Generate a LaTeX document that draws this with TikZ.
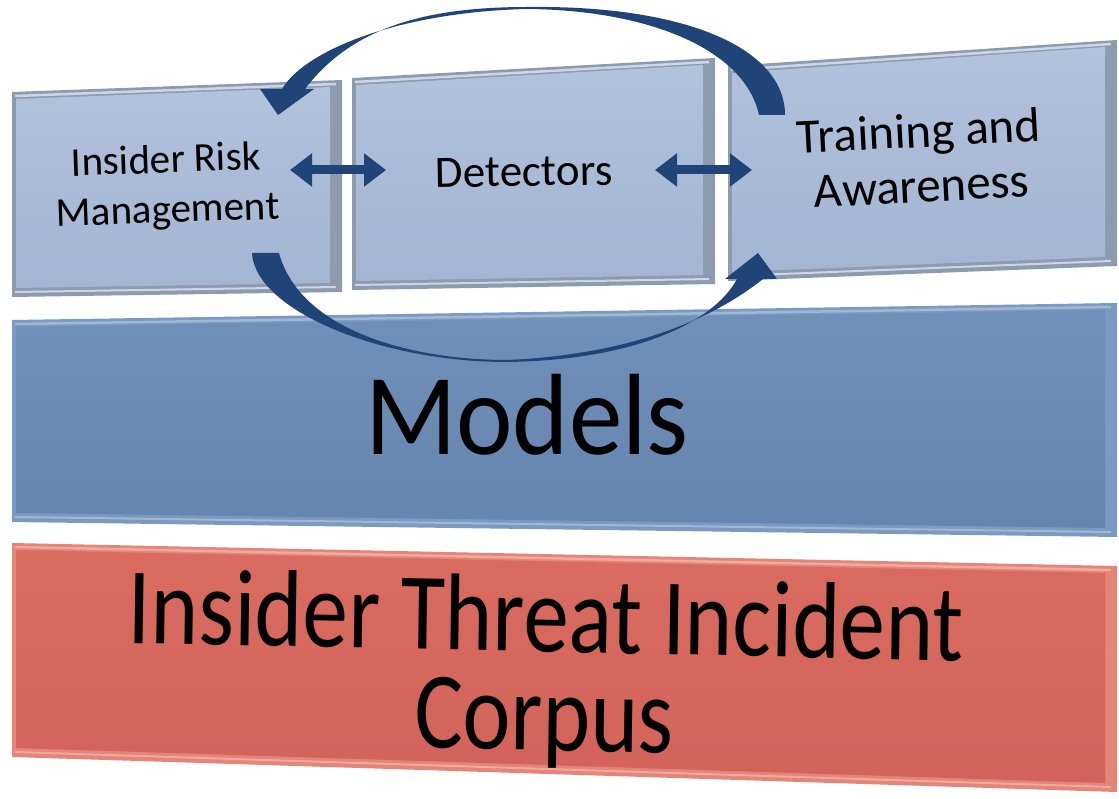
\documentclass[tikz,border=0pt]{standalone}
\usepackage{fontspec}
\setmainfont{Carlito}
\usetikzlibrary{arrows.meta,calc}

\definecolor{navy}{HTML}{1F4478}
\definecolor{tileface}{HTML}{B0C2DC}
\definecolor{tilefaceb}{HTML}{A2B5D2}
\definecolor{tileedge}{HTML}{8E9AAE}
\definecolor{tilelite}{HTML}{CBD7E8}
\definecolor{modface}{HTML}{7090BA}
\definecolor{modfaceb}{HTML}{6585B0}
\definecolor{modedge}{HTML}{7C99C0}
\definecolor{modlite}{HTML}{A0B7D6}
\definecolor{corface}{HTML}{DA6B5F}
\definecolor{corfaceb}{HTML}{D2635A}
\definecolor{coredge}{HTML}{E38578}
\definecolor{corlite}{HTML}{F1A89E}

% bevelled slab: corners TL, TR, BR, BL; face top/bottom colours; edge colour; highlight colour
\newcommand\bevelquad[8]{%
  \fill[#7] #1 -- #2 -- #3 -- #4 -- cycle;
  \shade[top color=#5,bottom color=#6]
    ($#1+(4,7)$) -- ($#2+(-12,7)$) -- ($#3+(-12,-9)$) -- ($#4+(4,-9)$) -- cycle;
  \draw[#8,line width=2.5pt] ($#1+(3,4)$) -- ($#2+(-6,4)$);
  \draw[#8,line width=2pt] ($#4+(3,-5)$) -- ($#3+(-6,-5)$);
}

\tikzset{
  label/.style={inner sep=0pt,align=center,text=black},
  dblarrow/.style={navy,line width=9pt,
    {Triangle[width=32pt,length=22pt]}-{Triangle[width=32pt,length=22pt]}},
  loop/.style={fill=navy}
}

\begin{document}
\begin{tikzpicture}[x=1pt,y=-1pt]
\useasboundingbox (0,0) rectangle (1119,799);
\fill[white] (0,0) rectangle (1119,799);

% upper row of tiles
\bevelquad{(12,92)}{(342,80)}{(342,292)}{(12,297)}{tileface}{tilefaceb}{tileedge}{tilelite}
\bevelquad{(352,78)}{(715,58)}{(715,284)}{(352,290)}{tileface}{tilefaceb}{tileedge}{tilelite}
\bevelquad{(728,66)}{(1117,40)}{(1117,266)}{(728,281)}{tileface}{tilefaceb}{tileedge}{tilelite}

% models slab
\bevelquad{(12,320)}{(1117,303)}{(1117,537)}{(12,522)}{modface}{modfaceb}{modedge}{modlite}

% corpus slab
\bevelquad{(12,543)}{(1117,566)}{(1117,792)}{(12,757)}{corface}{corfaceb}{coredge}{corlite}

% labels
\node[label,rotate=2,font=\fontsize{41}{50}\selectfont] (irm) at (167,187) {Insider Risk\\Management};
\node[label,rotate=1,font=\fontsize{45}{54}\selectfont] (det) at (524,172) {Detectors};
\node[label,rotate=3,font=\fontsize{49}{55}\selectfont] (train) at (920,158) {Training and\\Awareness};
\node[label,yscale=1.08,font=\fontsize{107}{120}\selectfont] (models) at (527,415) {Models};
\node[label,yscale=1.2,rotate=-1,font=\fontsize{91}{82}\selectfont] (corpus) at (545,672) {Insider Threat Incident\\Corpus};

% two-way links between neighbouring tiles
\coordinate (irmR) at (290,170);
\coordinate (detL) at (386,170);
\coordinate (detR) at (655,170);
\coordinate (trainL) at (752,170);
\draw[dblarrow] (irmR) -- (detL);
\draw[dblarrow] (detR) -- (trainL);

% feedback loop: upper arc, from training back to risk management
\fill[loop] (785,115) .. controls (785,50) and (690,5) .. (527,7)
  .. controls (420,7) and (350,30) .. (305,89)
  -- (314,89) -- (278,115) -- (260,89) -- (282,89)
  .. controls (305,50) and (400,12) .. (527,9)
  .. controls (650,10) and (745,50) .. (759,115) -- cycle;

% feedback loop: lower arc, from risk management on to training
\fill[loop] (252,253) .. controls (255,310) and (380,362) .. (507,362)
  .. controls (640,360) and (715,320) .. (737,279)
  -- (725,279) -- (758,253) -- (777,279) -- (763,279)
  .. controls (705,325) and (620,355) .. (507,360)
  .. controls (410,360) and (300,330) .. (279,253) -- cycle;
\end{tikzpicture}
\end{document}
